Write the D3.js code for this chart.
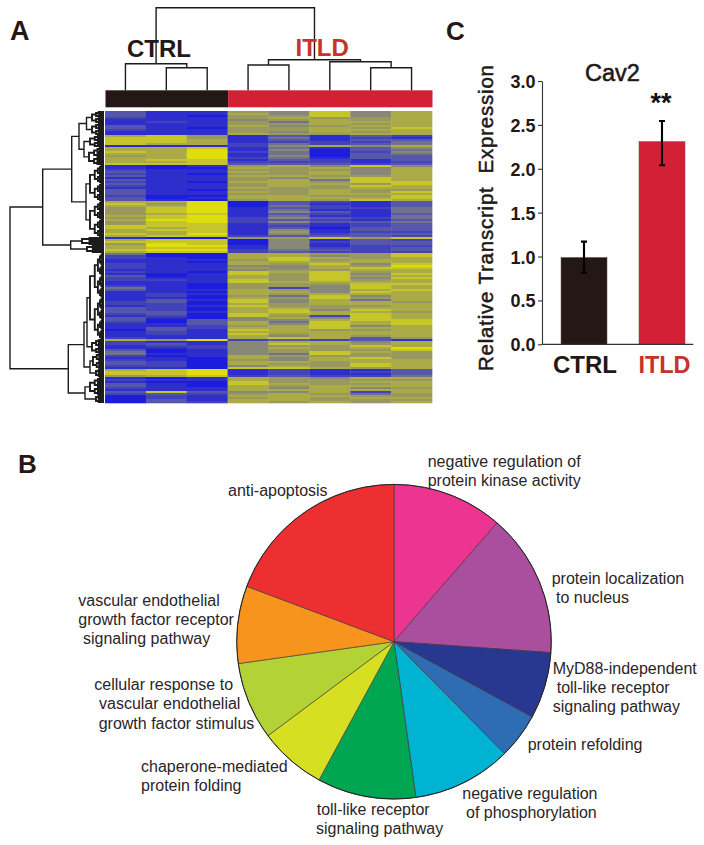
<!DOCTYPE html>
<html><head><meta charset="utf-8">
<script src="https://cdn.jsdelivr.net/npm/d3@7"></script>
<style>html,body{margin:0;padding:0;background:#fff}svg{display:block}text{font-family:"Liberation Sans",Arial,sans-serif}</style>
</head><body><svg id="c" width="704" height="845"></svg>
<script>
// ---------- data ----------
const heatRows = [
"31165857","31175857","31066857","21167667","11156767","12164777","11166767","31175677","31066768","21166777","11165767","11176677",
"78613132","88614121","88713133","88712224","87724234","11125757",
"77814135","77915034","87924025","77914034","67915033","77924133","78813213","77822212","88833323",
"10167585","10076757","21166657","31176757","21066757","31177667","11165787","31167487","21077688","31167768","21167687","11176677","31066766","31176768","31166777","20077668","30177778","31067687",
"77903213","86903113","77904213","68913224","68914114","68915314","67813213","78914114","68925324","79923213","68925334","68813123","88812123","87813033","78815133","77816122","87915233","78823332",
"10066868",
"78805132","88805233","69805133","79915122","78815223","89924323","78823222",
"40077668","20077568","21078767","11168677","11077777","21176858","21155769","21165788","11156677","21087867","10186858","30176867","21176858","22186867","11187777","11066688","21066587","41062587","31176578","11077587","12176777","12064857","11076867","13185747","23085776","22076777","12186667","32077677","32078587","33178776","23087787","12086287","31057587","30355788","20374878","11375878","11267857","13277877","03187667","12177777","12186777","11175767","21178736",
"76923231",
"21157757","23158767","12256687","11257679","30156668","40156876","41154866","20176666","11075786","21065777","32077677","32076687","22057687","11088767",
"78912113","88912123","88912113","67823224",
"10176577","21176666","10086677","31087667","31076777","21175756","11177777","38355727","23267646","02177766","02167677","03177666","03276767"
];
const heatLevels = [0, 1, 3, 5, 7, 8, 9];
const heatColors = ["#1c1cdc", "#2e2ecc", "#5656aa", "#888878", "#aaaa46", "#c6c62c", "#dede10"];

const leftTree = {h:94, children:[
  {h:61.3, children:[
    {h:32.3, children:[
      {h:25, children:[
        {h:17.5, children:[{r:[0,5],h:12},{r:[6,11],h:12}]},
        {h:20, children:[{r:[12,17],h:14},{r:[18,26],h:15}]}
      ]},
      {h:18, children:[{r:[27,44],h:14},{r:[45,62],h:14}]}
    ]},
    {h:33.3, children:[{r:[63,66],h:22},{r:[67,70],h:17}]}
  ]},
  {h:35.7, children:[
    {h:20, children:[
      {h:17, children:[{r:[71,113],h:14},{r:[114,120],h:12}]},
      {h:14, children:[{r:[121,128],h:11},{r:[129,132],h:8}]}
    ]},
    {h:19, children:[{r:[133,141],h:14},{r:[142,145],h:8}]}
  ]}
]};
const topTree = {h:82.6, children:[
  {h:26.6, children:[{col:0},{h:22.6, children:[{col:1},{col:2}]}]},
  {h:30.6, children:[
    {h:25.3, children:[{col:3},{col:4}]},
    {h:28.6, children:[{col:5},{h:22.6, children:[{col:6},{col:7}]}]}
  ]}
]};
const groupNames = ["CTRL","ITLD"];
const groupCols = [3,5];

const barCats = ["CTRL","ITLD"];
const barMeans = [0.99,2.31];
const barUpper = [1.17,2.545];
const barLower = [0.815,2.04];
const barTicks = [0,0.5,1,1.5,2,2.5,3];

const pieValues = [40.9,53.1,24.6,16.8,36.6,36.5,24.8,28.7,28.6,69.4];
const pieColors = ["#ec3491","#a94f9d","#283891","#2e6db4","#00b3d2","#00a651","#d7df23","#b2d235","#f7941d","#ee2f32"];
const pieLabels = [
 ["anti-apoptosis",228,496],
 ["vascular endothelial",78.3,605.7],["growth factor receptor",78.3,624.7],["signaling pathway",83,644],
 ["cellular response to",94.3,690],["vascular endothelial",99,709],["growth factor stimulus",98.7,728.5],
 ["chaperone-mediated",141,771.7],["protein folding",141,791],
 ["toll-like receptor",316.7,815],["signaling pathway",316,834],
 ["negative regulation of",427.7,467.3],["protein kinase activity",427.7,486],
 ["protein localization",551.7,584],["to nucleus",556,603],
 ["MyD88-independent",552.7,674],["toll-like receptor",556.7,693],["signaling pathway",552.7,712],
 ["protein refolding",527.7,750],
 ["negative regulation",462.3,799],["of phosphorylation",466,818]
];
// ---------- drawing ----------
const INK="#231815", RED="#d42035", LABELRED="#c8322d";
const svg=d3.select("#c");
svg.append("defs").append("filter").attr("id","soft").attr("x","-2%").attr("y","-2%").attr("width","104%").attr("height","104%")
  .append("feGaussianBlur").attr("stdDeviation","0.5 0.45");

// heatmap
const colBand=d3.scaleBand().domain(d3.range(8)).range([105,432]);
const rowBand=d3.scaleBand().domain(d3.range(heatRows.length)).range([111,403]);
const heatColor=d3.scaleLinear().domain(heatLevels).range(heatColors);
const heat=svg.append("g").attr("filter","url(#soft)");
heatRows.forEach((row,i)=>{
  heat.selectAll(null).data(row.split("").map(Number)).join("rect")
    .attr("x",(d,j)=>colBand(j)).attr("y",rowBand(i))
    .attr("width",colBand.bandwidth()+.3).attr("height",rowBand.bandwidth()+.3)
    .attr("fill",d=>heatColor(d));
});

// group bar
const groupX=d3.scaleLinear().domain([0,8]).range([105.5,432.5]);
let c0=0;
groupCols.forEach((n,i)=>{
  svg.append("rect").attr("x",groupX(c0)).attr("y",90.3).attr("width",groupX(c0+n)-groupX(c0)).attr("height",17)
    .attr("fill",i?RED:INK);
  c0+=n;
});

// dendrograms
function grow(a,b,h){
  if(a===b) return {row:a,h:0};
  const m=Math.floor((a+b)/2);
  const nh=h*0.66;
  return {h,fine:true,children:[grow(a,m,nh),grow(m+1,b,nh)]};
}
function expand(n){
  if(n.r) return grow(n.r[0],n.r[1],n.h);
  if(n.children) return {h:n.h,children:n.children.map(expand)};
  return {h:0,...n};
}
function place(n,leafPos){
  if(!n.children){ n.p=leafPos(n); return n.p; }
  const ps=n.children.map(c=>place(c,leafPos));
  n.p=(ps[0]+ps[1])/2; return n.p;
}
function dendro(tree,leafPos,link,w,wFine){
  const t=expand(tree); place(t,leafPos);
  const nodes=d3.hierarchy(t).descendants().filter(d=>d.children);
  svg.append("g").selectAll("path").data(nodes).join("path")
    .attr("d",d=>link(d.data)).attr("fill","none").attr("stroke","#1c1c1c")
    .attr("stroke-width",d=>d.data.fine?wFine:w);
}
const leftH=d3.scaleLinear().domain([0,94]).range([104,10]);
dendro(leftTree,n=>rowBand(n.row)+rowBand.bandwidth()/2,n=>{
  const [a,b]=n.children;
  return `M${leftH(a.h)},${a.p}H${leftH(n.h)}V${b.p}H${leftH(b.h)}`;
},1.4,1.9);
const topH=d3.scaleLinear().domain([0,82.6]).range([90.3,7.7]);
dendro(topTree,n=>colBand(n.col)+colBand.bandwidth()/2,n=>{
  const [a,b]=n.children;
  return `M${a.p},${topH(a.h)}V${topH(n.h)}H${b.p}V${topH(b.h)}`;
},1.4,1.4);

// heatmap labels
function txt(s,x,y,size,weight,fill){
  return svg.append("text").text(s).attr("x",x).attr("y",y).attr("font-size",size).attr("font-weight",weight).attr("fill",fill);
}
txt("CTRL",127,57,24,"bold",INK);
txt("ITLD",295.5,55.7,24,"bold",LABELRED);
txt("A",10,40,27,"bold",INK);
txt("B",18,473.3,26,"bold",INK);
txt("C",446,39.5,26,"bold",INK);

// bars
const y=d3.scaleLinear().domain([0,3]).range([344.3,81]);
const x=d3.scaleBand().domain(barCats).range([561,685]).paddingInner(0.41);
const yAxis=svg.append("g").attr("transform","translate(542,0)")
  .call(d3.axisLeft(y).tickValues(barTicks).tickFormat(d3.format(".1f")).tickSize(4).tickSizeOuter(0));
yAxis.selectAll("path,line").attr("stroke","#333").attr("stroke-width",1.1);
yAxis.selectAll("text").attr("font-size",18).attr("font-weight","bold").attr("fill",INK).attr("font-family","Liberation Sans").attr("x",-6.5).attr("dy","0.36em");
svg.selectAll(".bar").data(barCats).join("rect").attr("class","bar")
  .attr("x",d=>x(d)).attr("y",(d,i)=>y(barMeans[i])).attr("width",x.bandwidth())
  .attr("height",(d,i)=>y(0)-y(barMeans[i])).attr("fill",(d,i)=>i?RED:INK).attr("stroke","#6b5a58").attr("stroke-width",.5);
const xAxis=svg.append("g").attr("transform",`translate(0,${y(0)})`).call(d3.axisBottom(x).tickSize(0).tickPadding(13));
xAxis.select(".domain").remove();
xAxis.selectAll("text").attr("font-size",(d,i)=>i?23.5:24).attr("font-weight","bold").attr("font-family","Liberation Sans")
  .attr("fill",(d,i)=>i?LABELRED:INK).attr("y",null).attr("dy",null).attr("transform",(d,i)=>`translate(${i?2.5:1},28.4)`);
svg.append("line").attr("x1",542).attr("x2",693.3).attr("y1",y(0)).attr("y2",y(0)).attr("stroke","#333").attr("stroke-width",1.2);
barCats.forEach((c,i)=>{
  const cx=x(c)+x.bandwidth()/2;
  svg.append("path").attr("d",`M${cx-3},${y(barUpper[i])}H${cx+3}M${cx},${y(barUpper[i])}V${y(barLower[i])}M${cx-3},${y(barLower[i])}H${cx+3}`)
    .attr("stroke","#000").attr("stroke-width",2.1).attr("fill","none");
});
txt("Cav2",585,80.7,23.5,"normal",INK).attr("stroke",INK).attr("stroke-width",.55);
txt("**",650.5,112,27,"bold","#111");
svg.append("text").text("Relative Transcript  Expression").attr("xml:space","preserve").style("white-space","pre")
  .attr("transform","translate(493.3,371) rotate(-90)").attr("font-size",20.5).attr("fill",INK)
  .attr("stroke",INK).attr("stroke-width",.5).attr("textLength",306);

// pie
const pie=d3.pie().sort(null).value(d=>d);
const arc=d3.arc().innerRadius(0).outerRadius(157.3);
const pg=svg.append("g").attr("transform","translate(394,641.7)");
pg.selectAll("path").data(pie(pieValues)).join("path").attr("d",arc)
  .attr("fill",(d,i)=>pieColors[i]).attr("stroke","#3a3035").attr("stroke-width",.7).attr("stroke-opacity",.85);
pg.append("circle").attr("r",157.3).attr("fill","none").attr("stroke","#222").attr("stroke-width",1);
svg.append("g").selectAll("text").data(pieLabels).join("text")
  .text(d=>d[0]).attr("x",d=>d[1]).attr("y",d=>d[2]).attr("font-size",16).attr("fill","#2a2528");
</script></body></html>
